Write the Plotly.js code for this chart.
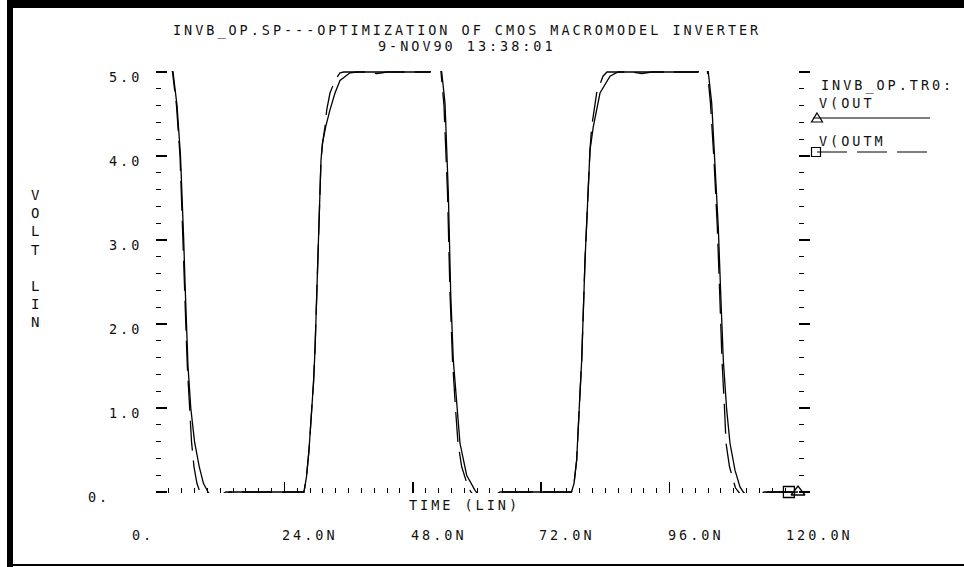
<!DOCTYPE html>
<html>
<head>
<meta charset="utf-8">
<script src="https://cdn.plot.ly/plotly-3.0.1.min.js"></script>
<style>
html,body{margin:0;padding:0;background:#fff;}
#chart{width:964px;height:567px;}
text{letter-spacing:2.97px;}
</style>
</head>
<body>
<div id="chart"></div>
<script>
// ---- data (time in ns, voltage in V) ----
const voutTime = [
  0, 0.6, 1.5, 2.4,
  3.18, 3.93, 4.58, 4.92, 5.18, 5.42, 5.66, 5.98, 6.50, 7.20, 8.09, 8.88, 9.72,
  11.0, 12.3, 13.83,
  27.66, 28.13, 28.60, 29.07, 29.44, 29.72, 29.91, 30.09, 30.37, 30.56, 30.84, 31.12, 31.72, 32.52, 33.46, 34.39, 36.26, 37.57,
  51.21, 51.8, 52.6,
  53.40, 54.02, 54.64, 55.08, 55.57, 56.07, 56.82, 58.07, 59.63,
  61.0, 62.6, 64.30,
  77.66, 78.13, 78.63, 79.25, 79.57, 80.19, 80.80, 81.12, 81.74, 82.99, 84.86, 86.36,
  101.3, 101.9, 102.6,
  103.23, 103.87, 104.49, 105.10, 105.55, 106.04, 106.67, 107.29, 108.22, 109.16, 109.78,
  111.2, 112.8, 114.39, 120
];
const voutVolt = [
  5.0, 5.22, 5.28, 5.15,
  5.0, 4.6, 4.0, 3.5, 3.0, 2.5, 2.0, 1.5, 1.0, 0.6, 0.3, 0.1, 0.0,
  -0.1, -0.07, 0.0,
  0.0, 0.18, 0.5, 0.89, 1.3, 1.69, 2.08, 2.49, 3.15, 3.56, 3.95, 4.15, 4.35, 4.55, 4.75, 4.9, 4.99, 5.0,
  5.0, 5.2, 5.25,
  5.0, 4.63, 3.56, 2.37, 1.57, 1.18, 0.58, 0.2, 0.02,
  -0.1, -0.07, 0.0,
  0.0, 0.1, 0.38, 1.18, 1.57, 2.76, 3.75, 4.07, 4.35, 4.75, 4.95, 5.0,
  5.0, 5.2, 5.25,
  5.0, 4.63, 3.95, 3.15, 2.37, 1.57, 0.98, 0.58, 0.26, 0.06, 0.0,
  -0.1, -0.07, 0.0, 0.0
];
const voutmTime = [
  0, 0.6, 1.5, 2.4,
  3.08, 3.83, 4.49, 5.10, 5.57, 5.85, 6.22, 6.64, 7.10, 7.66, 8.22,
  9.6, 11.3, 13.08,
  27.66, 28.13, 28.60, 29.07, 29.44, 29.72, 29.91, 30.09, 30.37, 30.56, 30.84, 31.12, 31.59, 31.91, 32.52, 33.46, 34.39, 35.1,
  39.5, 41.3, 43.2,
  51.21, 51.8, 52.6,
  53.27, 53.83, 54.49, 54.95, 55.42, 55.98, 56.45, 57.14, 58.37, 58.88,
  60.2, 61.9, 63.55,
  77.66, 78.13, 78.63, 79.25, 79.57, 80.19, 80.80, 81.12, 81.44, 82.37, 83.55, 84.30,
  89.0, 90.8, 92.6,
  101.3, 101.9, 102.6,
  103.08, 103.64, 104.30, 104.92, 105.36, 105.79, 106.26, 106.55, 107.2, 108.3, 108.9,
  110.3, 112.0, 113.64, 120
];
const voutmVolt = [
  5.0, 5.22, 5.28, 5.15,
  5.0, 4.6, 4.0, 3.0, 2.0, 1.5, 1.0, 0.6, 0.3, 0.1, 0.0,
  -0.1, -0.07, 0.0,
  0.0, 0.18, 0.5, 0.89, 1.3, 1.69, 2.08, 2.49, 3.15, 3.56, 3.95, 4.15, 4.35, 4.55, 4.75, 4.9, 4.99, 5.0,
  5.0, 4.98, 5.0,
  5.0, 5.2, 5.25,
  5.0, 4.6, 3.56, 2.37, 1.57, 1.0, 0.58, 0.3, 0.05, 0.0,
  -0.1, -0.07, 0.0,
  0.0, 0.1, 0.38, 1.18, 1.57, 2.76, 3.75, 4.07, 4.35, 4.75, 4.95, 5.0,
  5.0, 4.98, 5.0,
  5.0, 5.2, 5.25,
  5.0, 4.63, 3.95, 3.15, 2.37, 1.57, 1.0, 0.58, 0.3, 0.05, 0.0,
  -0.1, -0.07, 0.0, 0.0
];
const voutMarkTime = [120];
const voutMarkVolt = [0];
const voutmMarkTime = [118.3];
const voutmMarkVolt = [0];

const xTickVals = [0, 24, 48, 72, 96, 120];
const xTickText = ["0.", "24.0N", "48.0N", "72.0N", "96.0N", "120.0N"];
const yTickVals = [0, 1, 2, 3, 4, 5];
const yTickText = ["0.", "1.0", "2.0", "3.0", "4.0", "5.0"];
const titleLines = ["INVB_OP.SP---OPTIMIZATION OF CMOS MACROMODEL INVERTER", "9-NOV90 13:38:01"];
const xTitle = "TIME (LIN)";
const yTitle = "VOLT LIN";
const legendHeader = "INVB_OP.TR0:";
const seriesNames = ["V(OUT", "V(OUTM"];

// ---- layout geometry ----
const W = 964, H = 567;
const L = 156, PW = 642, T = 71, PH = 422;
const px = p => (p - L) / PW;          // pixel x -> paper x
const py = p => (T + PH - p) / PH;     // pixel y -> paper y
const DASH = "30px,10px";
const font = {family: '"DejaVu Sans Mono", "Liberation Mono", monospace', size: 13.5, color: '#111'};
const ann = o => Object.assign({showarrow: false, borderpad: 0, borderwidth: 0, font: font}, o);

const traces = [
  {x: voutTime, y: voutVolt, name: seriesNames[0], mode: 'lines',
   line: {color: '#000', width: 1.3}, showlegend: false, hoverinfo: 'skip'},
  {x: voutmTime, y: voutmVolt, name: seriesNames[1], mode: 'lines',
   line: {color: '#000', width: 1.3, dash: DASH}, showlegend: false, hoverinfo: 'skip'},
  {x: voutMarkTime, y: voutMarkVolt, yaxis: 'y2', mode: 'markers', cliponaxis: false,
   marker: {symbol: 'triangle-up-open', size: 12, color: '#000', line: {width: 1.3, color: '#000'}},
   showlegend: false, hoverinfo: 'skip'},
  {x: voutmMarkTime, y: voutmMarkVolt, yaxis: 'y2', mode: 'markers', cliponaxis: false,
   marker: {symbol: 'square-open', size: 11, color: '#000', line: {width: 1.3, color: '#000'}},
   showlegend: false, hoverinfo: 'skip'}
];

const yRange = [-0.012, 5.012];
const commonY = {range: yRange, dtick: 1, tick0: 0, ticklen: 11, tickwidth: 1.5, tickcolor: '#000',
  showticklabels: false, showgrid: false, zeroline: false, showline: false, fixedrange: true};

const annotations = [];
// title
annotations.push(ann({text: titleLines[0], xref: 'paper', yref: 'paper', x: px(467), y: py(30), xanchor: 'center', yanchor: 'middle'}));
annotations.push(ann({text: titleLines[1], xref: 'paper', yref: 'paper', x: px(467), y: py(46), xanchor: 'center', yanchor: 'middle'}));
// x tick labels
xTickVals.forEach((v, i) => {
  let shift = -2;
  if (i === 0) shift = -24;
  if (i === xTickVals.length - 1) shift = -12;
  annotations.push(ann({text: xTickText[i], xref: 'x', yref: 'paper', x: v, y: py(535), xanchor: 'left', yanchor: 'middle', xshift: shift}));
});
// y tick labels
yTickVals.forEach((v, i) => {
  const left = (v === 0) ? 88 : 109;
  annotations.push(ann({text: yTickText[i], xref: 'paper', yref: 'y', x: px(left), y: v, xanchor: 'left', yanchor: 'middle', yshift: -5}));
});
// axis titles
annotations.push(ann({text: xTitle, xref: 'paper', yref: 'paper', x: px(409), y: py(505), xanchor: 'left', yanchor: 'middle'}));
annotations.push(ann({text: yTitle.split('').join('<br>'), xref: 'paper', yref: 'paper', x: px(36), y: py(258), xanchor: 'center', yanchor: 'middle', font: Object.assign({}, font, {size: 14})}));
// legend texts
annotations.push(ann({text: legendHeader, xref: 'paper', yref: 'paper', x: px(821), y: py(85), xanchor: 'left', yanchor: 'middle'}));
annotations.push(ann({text: seriesNames[0], xref: 'paper', yref: 'paper', x: px(819), y: py(103), xanchor: 'left', yanchor: 'middle'}));
annotations.push(ann({text: seriesNames[1], xref: 'paper', yref: 'paper', x: px(819), y: py(141), xanchor: 'left', yanchor: 'middle'}));

const blk = {color: '#000', width: 0};
const shapes = [
  // frame
  {type: 'rect', xref: 'paper', yref: 'paper', x0: px(7), x1: px(964), y0: py(0), y1: py(8), fillcolor: '#000', line: blk},
  {type: 'rect', xref: 'paper', yref: 'paper', x0: px(7), x1: px(13), y0: py(0), y1: py(567), fillcolor: '#000', line: blk},
  {type: 'rect', xref: 'paper', yref: 'paper', x0: px(7), x1: px(964), y0: py(564), y1: py(566), fillcolor: '#000', line: blk},
  // legend samples
  {type: 'line', xref: 'paper', yref: 'paper', x0: px(813), x1: px(930), y0: py(118), y1: py(118), line: {color: '#000', width: 1.2}},
  {type: 'path', xref: 'paper', yref: 'paper',
   path: `M ${px(817)},${py(113)} L ${px(822.5)},${py(122)} L ${px(811.5)},${py(122)} Z`, line: {color: '#000', width: 1.2}},
  {type: 'line', xref: 'paper', yref: 'paper', x0: px(817), x1: px(930), y0: py(152), y1: py(152), line: {color: '#000', width: 1.2, dash: DASH}},
  {type: 'rect', xref: 'paper', yref: 'paper', x0: px(811.5), x1: px(820.5), y0: py(147.5), y1: py(156.5), line: {color: '#000', width: 1.2}}
];

const layout = {
  width: W, height: H,
  margin: {l: L, r: W - L - PW, t: T, b: H - T - PH, pad: 0},
  paper_bgcolor: '#fff', plot_bgcolor: '#fff',
  showlegend: false,
  xaxis: {range: [0, 120], dtick: 24, tick0: 0, ticks: 'inside', ticklen: 11, tickwidth: 1.5, tickcolor: '#000',
    minor: {dtick: 2.4, tick0: 0, ticks: 'inside', ticklen: 5, tickwidth: 1, tickcolor: '#000'},
    showticklabels: false, showgrid: false, zeroline: false, showline: false, fixedrange: true},
  yaxis: Object.assign({}, commonY, {ticks: 'inside',
    minor: {dtick: 0.2, tick0: 0, ticks: 'inside', ticklen: 5, tickwidth: 1, tickcolor: '#000'}}),
  yaxis2: Object.assign({}, commonY, {overlaying: 'y', side: 'right', ticks: 'outside',
    minor: {dtick: 0.2, tick0: 0, ticks: 'outside', ticklen: 5, tickwidth: 1, tickcolor: '#000'}}),
  annotations: annotations,
  shapes: shapes
};

Plotly.newPlot('chart', traces, layout, {displayModeBar: false, staticPlot: true});
</script>
</body>
</html>
